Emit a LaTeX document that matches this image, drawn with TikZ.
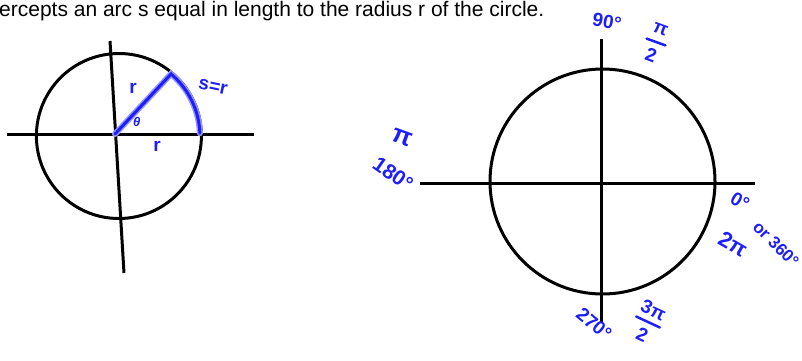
\documentclass[tikz,border=0pt]{standalone}
\usepackage{fontspec}
\setmainfont{Liberation Sans}
\usepackage{tikz}
\definecolor{ink}{RGB}{30,30,250}
\definecolor{halo}{RGB}{150,150,255}
\tikzset{
  axis/.style={line width=3pt},
  hand/.style={text=ink,inner sep=0pt,font=\fontsize{19}{19}\selectfont\bfseries},
  stroke/.style={ink,line width=3pt,line cap=round},
  glow/.style={halo,line width=6pt,line cap=round},
  bar/.style={ink,line width=2.5pt,line cap=round}
}
\begin{document}
\begin{tikzpicture}[x=1pt,y=-1pt]
 \useasboundingbox (0,0) rectangle (802,360);
 \node[anchor=base west,inner sep=0pt,font=\fontsize{21}{21}\selectfont] (caption) at (-1,16.5)
   {ercepts an arc s equal in length to the radius r of the circle.};
 \draw[axis] (7,134) -- (254,134);
 \draw[axis] (110,41) -- (124,273);
 \draw[axis] (118.9,136) circle[radius=82.5pt];
 \coordinate (O) at (115,134);
 \coordinate (P) at (171,74);
 \draw[glow] (O) -- (P) arc[start angle=50,end angle=2,radius=81pt];
 \draw[stroke] (O) -- (P) arc[start angle=50,end angle=2,radius=81pt];
 \node[hand] (rside) at (133,88) {r};
 \node[hand,rotate=-12] (arclen) at (213,87) {s=r};
 \node[hand,font=\fontsize{13}{13}\selectfont\bfseries,rotate=-15] (theta) at (137,122) {θ};
 \node[hand] (rbase) at (157,146) {r};
 \draw[axis] (420,183) -- (755,183);
 \draw[axis] (601,39) -- (601,322);
 \draw[axis] (602.5,181.5) circle[radius=112.5pt];
 \node[hand,rotate=-10] (deg90) at (607,22) {90°};
 \begin{scope}[shift={(656,42)},rotate=-20]
  \node[hand,rotate=-20] (halfpinum) at (0,-13) {π};
  \node[hand,rotate=-20] (halfpiden) at (0,14) {2};
  \draw[bar] (-10,0) -- (10,0);
 \end{scope}
 \node[hand,rotate=-20,font=\fontsize{26}{26}\selectfont\bfseries] (pi) at (402,138) {π};
 \node[hand,rotate=-35,font=\fontsize{21}{21}\selectfont\bfseries] (deg180) at (393,174) {180°};
 \node[hand,rotate=-30] (deg0) at (740,201) {0°};
 \node[hand,rotate=-45,font=\fontsize{17}{17}\selectfont\bfseries] (deg360) at (776,244) {or 360°};
 \node[hand,rotate=-30,font=\fontsize{22}{22}\selectfont\bfseries] (twopi) at (733,244) {2π};
 \node[hand,rotate=-40] (deg270) at (594,324) {270°};
 \begin{scope}[shift={(648,322)},rotate=-25]
  \node[hand,rotate=-25] (threehalfnum) at (0,-13) {3π};
  \node[hand,rotate=-25] (threehalfden) at (0,14) {2};
  \draw[bar] (-13,0) -- (13,0);
 \end{scope}
\end{tikzpicture}
\end{document}
